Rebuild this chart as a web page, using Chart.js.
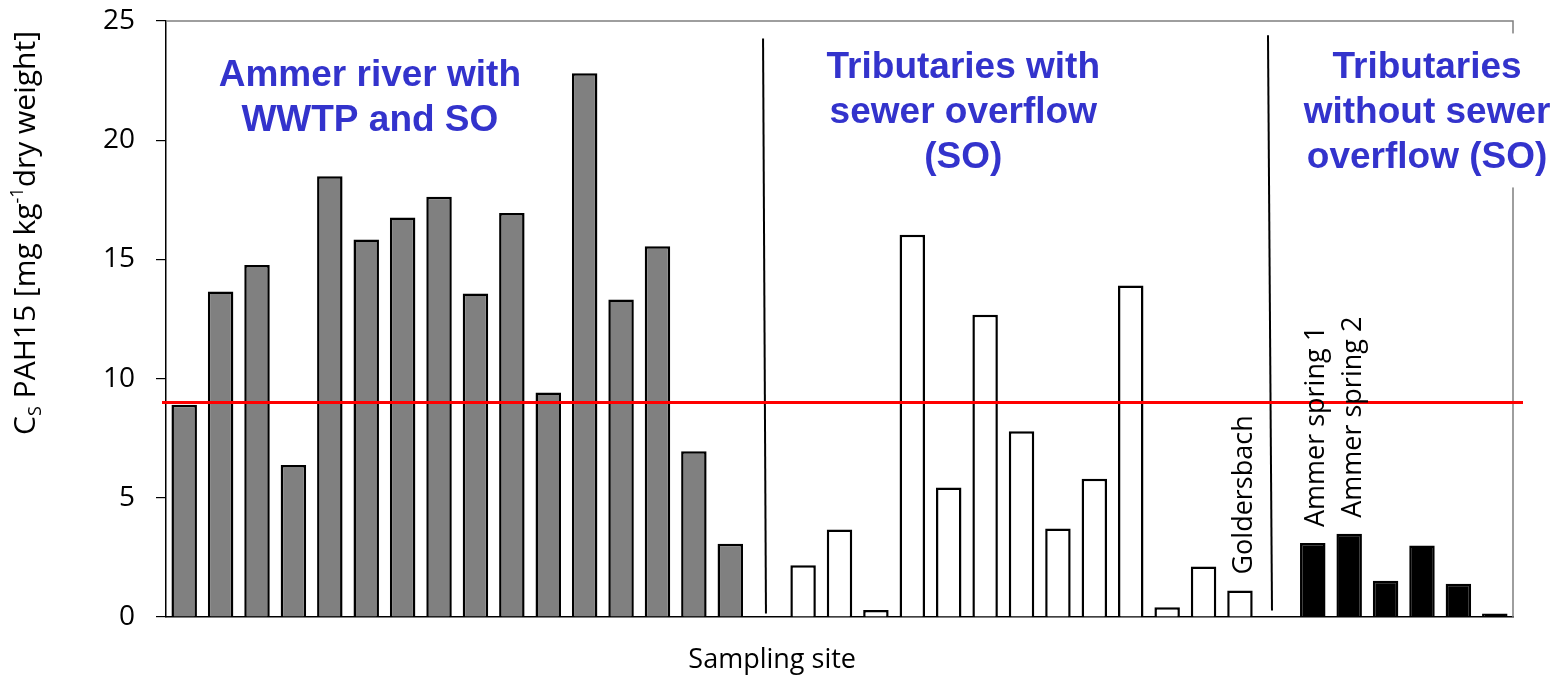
<!DOCTYPE html>
<html>
<head>
<meta charset="utf-8">
<script src="https://cdn.jsdelivr.net/npm/chart.js@4.4.1/dist/chart.umd.min.js"></script>
<style>
  html, body { margin: 0; padding: 0; background: #fff; }
  #wrap { width: 1559px; height: 676px; }
</style>
</head>
<body>
<div id="wrap"><canvas id="pah"></canvas></div>
<script>
// C_S PAH15 per sampling site [mg/kg dry weight]
const ammer    = [8.9, 13.65, 14.77, 6.38, 18.49, 15.83, 16.76, 17.63, 13.57, 16.95, 9.42, 22.81, 13.32, 15.55, 6.95, 3.07];
const tribSO   = [2.17, 3.67, 0.29, 16.03, 5.43, 12.68, 7.79, 3.71, 5.8, 13.9, 0.41, 2.12, 1.11];
const tribNoSO = [3.1, 3.49, 1.52, 3.0, 1.39, 0.15];

const threshold = 9;
const yTicks = [0, 5, 10, 15, 20, 25];

// site names (only a few are labelled in the figure)
const ammerSites   = ['A1','A2','A3','A4','A5','A6','A7','A8','A9','A10','A11','A12','A13','A14','A15','A16'];
const tribSOSites  = ['T1','T2','T3','T4','T5','T6','T7','T8','T9','T10','T11','T12','Goldersbach'];
const tribNoSites  = ['Ammer spring 1','Ammer spring 2','N3','N4','N5','N6'];
const namedSites   = ['Goldersbach', 'Ammer spring 1', 'Ammer spring 2'];

const groupTitles = [
  ['Ammer river with', 'WWTP and SO'],
  ['Tributaries with', 'sewer overflow', '(SO)'],
  ['Tributaries', 'without sewer', 'overflow (SO)']
];
// where each title sits, in axis units: [category centre, first baseline]
const titlePos = [[5.1, 22.29], [21.4, 22.59], [34.14, 22.59]];
// group separators, in axis units: [x top, y top, x bottom, y bottom]
const dividers = [[15.9, 24.27, 15.98, 0.15], [29.77, 24.4, 29.88, 0.27]];

const categories = [...ammerSites, 'gap1', ...tribSOSites, 'gap2', ...tribNoSites];
const pad = n => Array(n).fill(null);

const grayData  = [...ammer, ...pad(categories.length - ammer.length)];
const whiteData = [...pad(ammer.length + 1), ...tribSO, ...pad(tribNoSO.length + 1)];
const blackData = [...pad(ammer.length + tribSO.length + 2), ...tribNoSO];

const overlay = {
  id: 'overlay',
  afterDatasetsDraw(chart) {
    const { ctx, chartArea: a, scales: { x, y } } = chart;
    ctx.save();

    // top and right frame in grey
    ctx.strokeStyle = '#7f7f7f';
    ctx.lineWidth = 1.5;
    ctx.beginPath();
    ctx.moveTo(a.left, a.top);
    ctx.lineTo(a.right, a.top);
    ctx.lineTo(a.right, a.bottom);
    ctx.stroke();

    // separators between groups
    ctx.strokeStyle = '#000';
    ctx.lineWidth = 2;
    dividers.forEach(d => {
      ctx.beginPath();
      ctx.moveTo(x.getPixelForValue(d[0]), y.getPixelForValue(d[1]));
      ctx.lineTo(x.getPixelForValue(d[2]), y.getPixelForValue(d[3]));
      ctx.stroke();
    });

    // threshold
    const ty = y.getPixelForValue(threshold);
    ctx.strokeStyle = '#ff0000';
    ctx.lineWidth = 3;
    ctx.beginPath();
    ctx.moveTo(a.left - 4, ty);
    ctx.lineTo(a.right + 10, ty);
    ctx.stroke();

    // vertical site names above their bars
    const all = grayData.map((v, i) => v ?? whiteData[i] ?? blackData[i]);
    ctx.fillStyle = '#000';
    ctx.font = '27px "Open Sans"';
    ctx.textAlign = 'left';
    ctx.textBaseline = 'middle';
    namedSites.forEach(name => {
      const i = categories.indexOf(name);
      ctx.save();
      ctx.translate(x.getPixelForValue(i) + 4, y.getPixelForValue(all[i]) - 16);
      ctx.rotate(-Math.PI / 2);
      ctx.fillText(name, 0, 0);
      ctx.restore();
    });

    // x axis title (sits a bit left of the plot centre in the original)
    ctx.textAlign = 'center';
    ctx.fillText('Sampling site', a.left + 0.45 * (a.right - a.left), 660);

    // group titles
    ctx.font = 'bold 37px "Liberation Sans"';
    ctx.textAlign = 'center';
    ctx.textBaseline = 'alphabetic';
    groupTitles.forEach((lines, g) => {
      const cx = x.getPixelForValue(titlePos[g][0]);
      const by = y.getPixelForValue(titlePos[g][1]);
      if (g === 2) {
        const w = Math.max(...lines.map(l => ctx.measureText(l).width));
        ctx.fillStyle = '#fff';
        ctx.fillRect(cx - w / 2 - 6, by - 45, w + 12, 45 * lines.length + 19);
      }
      ctx.fillStyle = '#3333cc';
      lines.forEach((l, k) => ctx.fillText(l, cx, by + k * 45));
    });

    // y axis title with sub/superscript
    const parts = [
      { t: 'C', s: 30, dy: 0 },
      { t: 'S', s: 18, dy: 6 },
      { t: ' PAH15 [mg kg', s: 30, dy: 0 },
      { t: '-1', s: 18, dy: -12 },
      { t: 'dry weight]', s: 30, dy: 0 }
    ];
    let total = 0;
    parts.forEach(p => { ctx.font = p.s + 'px "Open Sans"'; p.w = ctx.measureText(p.t).width; total += p.w; });
    ctx.save();
    ctx.translate(35, 233);
    ctx.rotate(-Math.PI / 2);
    ctx.fillStyle = '#000';
    ctx.textAlign = 'left';
    let px = -total / 2;
    parts.forEach(p => {
      ctx.font = p.s + 'px "Open Sans"';
      ctx.fillText(p.t, px, p.dy);
      px += p.w;
    });
    ctx.restore();

    ctx.restore();
  }
};

new Chart(document.getElementById('pah'), {
  type: 'bar',
  data: {
    labels: categories,
    datasets: [
      { data: grayData,  backgroundColor: '#808080', borderColor: '#000', borderWidth: 2.5 },
      { data: whiteData, backgroundColor: '#ffffff', borderColor: '#000', borderWidth: 2.5 },
      { data: blackData, backgroundColor: '#000000', borderColor: '#000', borderWidth: 2.5 }
    ]
  },
  options: {
    responsive: true,
    maintainAspectRatio: false,
    animation: false,
    devicePixelRatio: 1,
    layout: { padding: { top: 21, right: 46, left: 0, bottom: 0 } },
    datasets: { bar: { grouped: false, barPercentage: 0.7, categoryPercentage: 1 } },
    plugins: {
      legend: { display: false },
      tooltip: { enabled: false }
    },
    scales: {
      x: {
        grid: { display: false },
        ticks: { display: false },
        border: { color: '#000', width: 1.5 },
        afterFit: s => { s.height = 59; }
      },
      y: {
        min: 0,
        max: 25,
        afterBuildTicks: s => { s.ticks = yTicks.map(v => ({ value: v })); },
        ticks: { color: '#000', padding: 21, font: { family: 'Open Sans', size: 28 } },
        grid: { drawOnChartArea: false, tickLength: 10, color: '#000', lineWidth: 1.2 },
        border: { color: '#000', width: 1.5 },
        afterFit: s => { s.width = 166; s.paddingTop = 0; s.paddingBottom = 0; }
      }
    }
  },
  plugins: [overlay]
});
</script>
</body>
</html>
